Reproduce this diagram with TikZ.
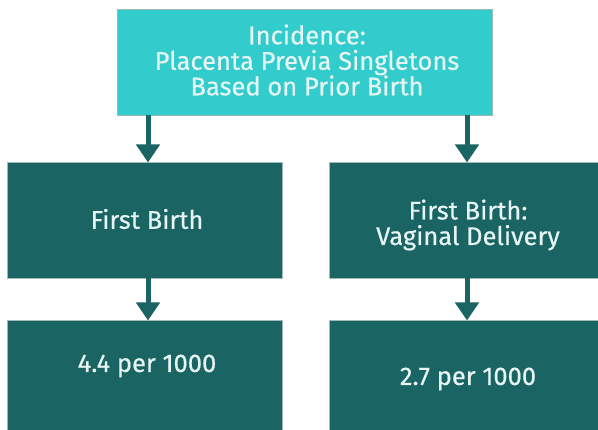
\documentclass[tikz,border=0pt]{standalone}
\usepackage{fontspec}
\setmainfont{Fira Sans}
\newfontfamily\lblfont{Fira Sans}[FakeBold=0.5]
\usetikzlibrary{arrows.meta}
\definecolor{topcyan}{HTML}{33CCCC}
\definecolor{darkteal}{HTML}{1A6464}
\definecolor{boxtext}{HTML}{E6F4F4}
\definecolor{edgegray}{HTML}{9FB8B8}
\tikzset{
  x=1pt, y=-1pt,
  boxshape/.style={draw=edgegray, line width=0.6pt, inner sep=0pt, outer sep=0pt, minimum width=#1},
  topbox/.style={boxshape=375pt, fill=topcyan, minimum height=106pt},
  tealbox/.style={boxshape=275pt, fill=darkteal, minimum height=116pt},
  lowbox/.style={boxshape=275pt, fill=darkteal, minimum height=120pt},
  lbl/.style={text=boxtext, font=\lblfont\fontsize{25.5}{25.5}\selectfont, align=center, inner sep=0pt},
  conn/.style={draw=darkteal, line width=5pt, -{Triangle[width=23pt,length=18pt]}, shorten >=-0.5pt}
}
\begin{document}
\begin{tikzpicture}
\useasboundingbox (0,0) rectangle (598,430);
\clip (0,0) rectangle (598,430);
\fill[white] (0,0) rectangle (598,430);
\node[topbox] (top) at (304.5,62) {};
\node[tealbox] (fb) at (144.5,220) {};
\node[tealbox] (vd) at (467,220) {};
\node[lowbox] (r1) at (144.5,380) {};
\node[lowbox] (r2) at (467,380) {};
\node[lbl] (ttop) at (307,60) {Incidence:\\Placenta Previa Singletons\\Based on Prior Birth};
\node[lbl] (tfb) at (147,219) {First Birth};
\node[lbl] (tvd) at (468,225) {First Birth:\\Vaginal Delivery};
\node[lbl] (tr1) at (147,366) {4.4 per 1000};
\node[lbl] (tr2) at (468,379) {2.7 per 1000};
\path[conn] (148,115) -- (148,162);
\path[conn] (467,115) -- (467,162);
\path[conn] (148,278) -- (148,320);
\path[conn] (467,278) -- (467,320);
\end{tikzpicture}
\end{document}
